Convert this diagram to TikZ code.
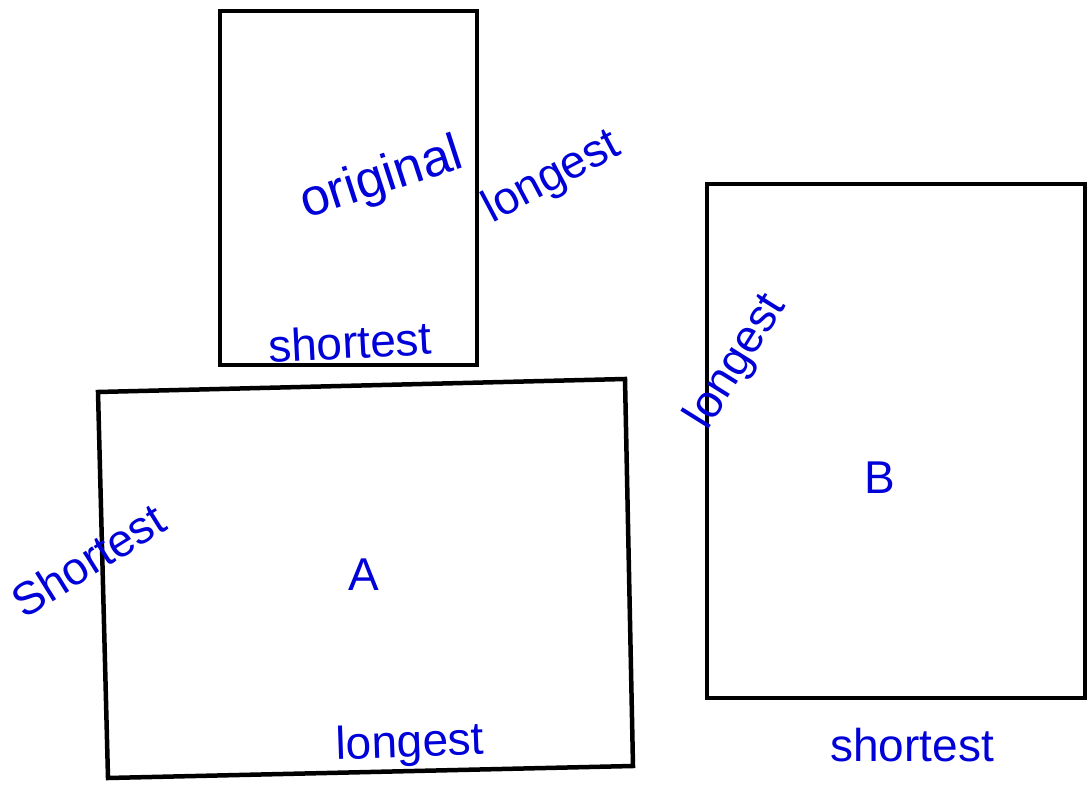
\documentclass[tikz,border=0pt]{standalone}
\usepackage{fontspec}
\setmainfont{Liberation Sans}
\begin{document}
\begin{tikzpicture}[x=1pt,y=-1pt,
  box/.style={draw=black,line width=4.5pt,line join=miter},
  hand/.style={text=blue!85!black,font=\fontsize{46}{46}\selectfont,inner sep=0pt}]
\useasboundingbox (0,0) rectangle (1088,799);
\fill[white] (0,0) rectangle (1088,799);
% rectangles
\draw[box] (220,11) rectangle (477,365);
\coordinate (a1) at (98,392);
\coordinate (a2) at (625,379);
\coordinate (a3) at (633,766);
\coordinate (a4) at (108,778);
\draw[box] (a1) -- (a2) -- (a3) -- (a4) -- cycle;
\draw[box] (707,184) rectangle (1085,698);
% labels
\node[hand,rotate=18,font=\fontsize{52}{52}\selectfont] (orig) at (382,180) {original};
\node[hand,rotate=28] (l1) at (552,178) {longest};
\node[hand,rotate=3] (s1) at (350,342) {shortest};
\node[hand,rotate=32] (s2) at (88,560) {Shortest};
\node[hand] (la) at (364,575) {A};
\node[hand,rotate=2] (l2) at (410,745) {longest};
\node[hand,rotate=58] (l3) at (737,362) {longest};
\node[hand] (lb) at (880,478) {B};
\node[hand] (s3) at (912,745) {shortest};
\end{tikzpicture}
\end{document}
